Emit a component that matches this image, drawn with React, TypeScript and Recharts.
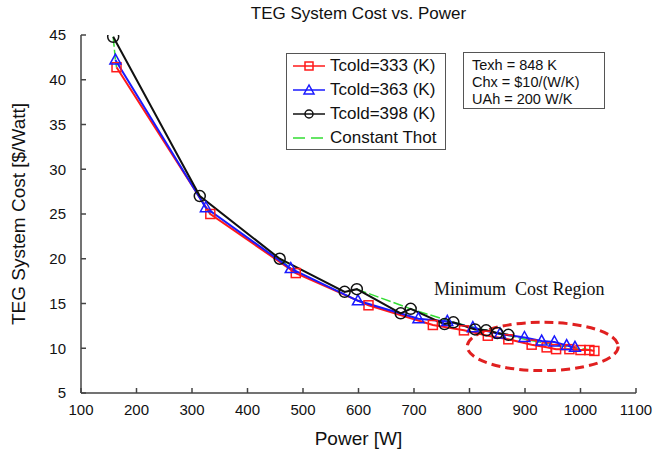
import { LineChart, Line, XAxis, YAxis, ReferenceArea, Label } from "recharts"

const xTicks = [100, 200, 300, 400, 500, 600, 700, 800, 900, 1000, 1100]
const yTicks = [5, 10, 15, 20, 25, 30, 35, 40, 45]

// Tcold = 333 K
const power333 = [164, 333, 487, 618, 734, 790, 833, 870, 912, 939, 956, 980, 1000, 1016, 1025]
const cost333 = [41.4, 25.0, 18.4, 14.8, 12.6, 12.0, 11.4, 11.0, 10.4, 10.1, 9.9, 9.9, 9.8, 9.8, 9.7]

// Tcold = 363 K
const power363 = [162, 325, 478, 599, 708, 760, 806, 855, 899, 930, 953, 975, 990]
const cost363 = [42.2, 25.7, 18.9, 15.3, 13.3, 13.0, 12.3, 11.6, 11.2, 10.8, 10.7, 10.3, 10.1]

// Tcold = 398 K
const power398 = [158, 314, 458, 575, 597, 676, 694, 755, 771, 810, 830, 850, 870]
const cost398 = [44.8, 27.0, 20.0, 16.3, 16.6, 13.9, 14.4, 12.7, 12.9, 12.1, 12.0, 11.7, 11.5]

// constant Thot connectors
const thotPower = [
  [158, 162, 164],
  [314, 325, 333],
  [458, 478, 487],
  [597, 694, 771, 830, 900, 960, 1020],
]
const thotCost = [
  [44.8, 42.2, 41.4],
  [27.0, 25.7, 25.0],
  [20.0, 18.9, 18.4],
  [16.6, 14.4, 12.9, 12.0, 11.0, 10.3, 9.8],
]

const legendLabels = ["Tcold=333 (K)", "Tcold=363 (K)", "Tcold=398 (K)", "Constant Thot"]
const paramLines = ["Texh = 848 K", "Chx = $10/(W/K)", "UAh = 200 W/K"]

const toPoints = (p: number[], c: number[]) => p.map((power, i) => ({ power, cost: c[i] }))

const RED = "#ff1a1a"
const BLUE = "#1a1aff"
const BLACK = "#111111"
const GREEN = "#33dd33"
const AXIS = "#444444"
const SANS = "Arial, 'Liberation Sans', sans-serif"

const Square = (props: any) => {
  const { cx, cy } = props
  if (cx == null || cy == null) return null
  return <rect x={cx - 4.5} y={cy - 4.5} width={9} height={9} fill="none" stroke={RED} strokeWidth={1.5} />
}

const Triangle = (props: any) => {
  const { cx, cy } = props
  if (cx == null || cy == null) return null
  return (
    <polygon
      points={`${cx},${cy - 6} ${cx - 5.5},${cy + 4} ${cx + 5.5},${cy + 4}`}
      fill="none"
      stroke={BLUE}
      strokeWidth={1.5}
    />
  )
}

const Circle = (props: any) => {
  const { cx, cy } = props
  if (cx == null || cy == null) return null
  return <circle cx={cx} cy={cy} r={5.5} fill="none" stroke={BLACK} strokeWidth={1.5} />
}

const EllipseShape = (props: any) => {
  const { x, y, width, height } = props
  return (
    <ellipse
      cx={x + width / 2}
      cy={y + height / 2}
      rx={width / 2}
      ry={height / 2}
      fill="none"
      stroke="#e02020"
      strokeWidth={3}
      strokeDasharray="9 5"
    />
  )
}

function LegendBox() {
  const icons = [
    <g key="r">
      <line x1={2} y1={8} x2={34} y2={8} stroke={RED} strokeWidth={1.5} />
      <rect x={14} y={4} width={8} height={8} fill="none" stroke={RED} strokeWidth={1.5} />
    </g>,
    <g key="b">
      <line x1={2} y1={8} x2={34} y2={8} stroke={BLUE} strokeWidth={1.5} />
      <polygon points="18,3 13,12 23,12" fill="none" stroke={BLUE} strokeWidth={1.5} />
    </g>,
    <g key="k">
      <line x1={2} y1={8} x2={34} y2={8} stroke={BLACK} strokeWidth={1.5} />
      <circle cx={18} cy={8} r={4} fill="none" stroke={BLACK} strokeWidth={1.5} />
    </g>,
    <g key="g">
      <line x1={2} y1={8} x2={34} y2={8} stroke={GREEN} strokeWidth={1.5} strokeDasharray="12 6" />
    </g>,
  ]
  return (
    <div
      style={{
        position: "absolute",
        left: 286,
        top: 53,
        width: 160,
        height: 97,
        border: "1px solid #555",
        background: "#fff",
        fontFamily: SANS,
        fontSize: 17,
        padding: "0 0 0 4px",
        boxSizing: "border-box",
        color: "#111",
      }}
    >
      {legendLabels.map((t, i) => (
        <div key={t} style={{ display: "flex", alignItems: "center", height: 24 }}>
          <svg width={38} height={16}>{icons[i]}</svg>
          <span style={{ marginLeft: 1 }}>{t}</span>
        </div>
      ))}
    </div>
  )
}

export default function App() {
  const s333 = toPoints(power333, cost333)
  const s363 = toPoints(power363, cost363)
  const s398 = toPoints(power398, cost398)
  const thot = thotPower.map((p, i) => toPoints(p, thotCost[i]))

  return (
    <div style={{ position: "absolute", left: 0, top: 0, width: 664, height: 452, background: "#fff" }}>
      <div
        style={{
          position: "absolute",
          top: 4,
          left: 81,
          width: 555,
          textAlign: "center",
          fontFamily: SANS,
          fontSize: 17,
          color: "#111",
        }}
      >
        TEG System Cost vs. Power
      </div>
      <LineChart width={664} height={452} margin={{ top: 35, right: 28, bottom: 0, left: 0 }}>
        <XAxis
          xAxisId="bottom"
          type="number"
          dataKey="power"
          domain={[100, 1100]}
          ticks={xTicks}
          allowDataOverflow
          stroke={AXIS}
          strokeWidth={1.5}
          tickSize={-5}
          tickMargin={16}
          height={59}
          tick={{ fill: "#111", fontSize: 15, fontFamily: SANS }}
        >
          <Label value="Power [W]" position="insideBottom" offset={7} style={{ fill: "#111", fontSize: 19, fontFamily: SANS }} />
        </XAxis>
        <XAxis
          xAxisId="top"
          orientation="top"
          type="number"
          dataKey="power"
          domain={[100, 1100]}
          ticks={xTicks}
          allowDataOverflow
          stroke={AXIS}
          strokeWidth={1.5}
          tickSize={-5}
          tickFormatter={() => ""}
          height={0}
        />
        <YAxis
          yAxisId="left"
          type="number"
          dataKey="cost"
          domain={[5, 45]}
          ticks={yTicks}
          allowDataOverflow
          stroke={AXIS}
          strokeWidth={1.5}
          tickSize={-5}
          tickMargin={20}
          width={81}
          tick={{ fill: "#111", fontSize: 15, fontFamily: SANS }}
        >
          <Label
            value="TEG System Cost [$/Watt]"
            angle={-90}
            position="insideLeft"
            offset={18}
            style={{ fill: "#111", fontSize: 19, fontFamily: SANS, textAnchor: "middle" }}
          />
        </YAxis>
        <YAxis
          yAxisId="right"
          orientation="right"
          type="number"
          domain={[5, 45]}
          ticks={yTicks}
          allowDataOverflow
          stroke={AXIS}
          strokeWidth={1.5}
          tickSize={-5}
          tickFormatter={() => ""}
          width={0}
        />
        <ReferenceArea
          xAxisId="bottom"
          yAxisId="left"
          x1={796}
          x2={1068}
          y1={7.5}
          y2={12.9}
          shape={EllipseShape}
        />
        {thot.map((d, i) => (
          <Line
            key={`thot-${i}`}
            xAxisId="bottom"
            yAxisId="left"
            data={d}
            dataKey="cost"
            stroke={GREEN}
            strokeWidth={1.5}
            strokeDasharray="10 3"
            dot={false}
            isAnimationActive={false}
          />
        ))}
        <Line xAxisId="bottom" yAxisId="left" data={s333} dataKey="cost" stroke={RED} strokeWidth={2} dot={<Square />} isAnimationActive={false} />
        <Line xAxisId="bottom" yAxisId="left" data={s363} dataKey="cost" stroke={BLUE} strokeWidth={2} dot={<Triangle />} isAnimationActive={false} />
        <Line xAxisId="bottom" yAxisId="left" data={s398} dataKey="cost" stroke={BLACK} strokeWidth={2} dot={<Circle />} isAnimationActive={false} />
      </LineChart>
      <LegendBox />
      <div
        style={{
          position: "absolute",
          left: 463,
          top: 52,
          width: 142,
          height: 57,
          border: "1px solid #555",
          background: "#fff",
          fontFamily: SANS,
          fontSize: 14.5,
          lineHeight: "17px",
          padding: "4px 0 0 8px",
          boxSizing: "border-box",
          color: "#111",
          whiteSpace: "nowrap",
        }}
      >
        {paramLines.map((t) => (
          <div key={t}>{t}</div>
        ))}
      </div>
      <div
        style={{
          position: "absolute",
          left: 434,
          top: 279,
          fontFamily: "'Liberation Serif', 'Times New Roman', serif",
          fontSize: 18,
          color: "#111",
          whiteSpace: "nowrap",
        }}
      >
        Minimum&nbsp; Cost Region
      </div>
    </div>
  )
}
